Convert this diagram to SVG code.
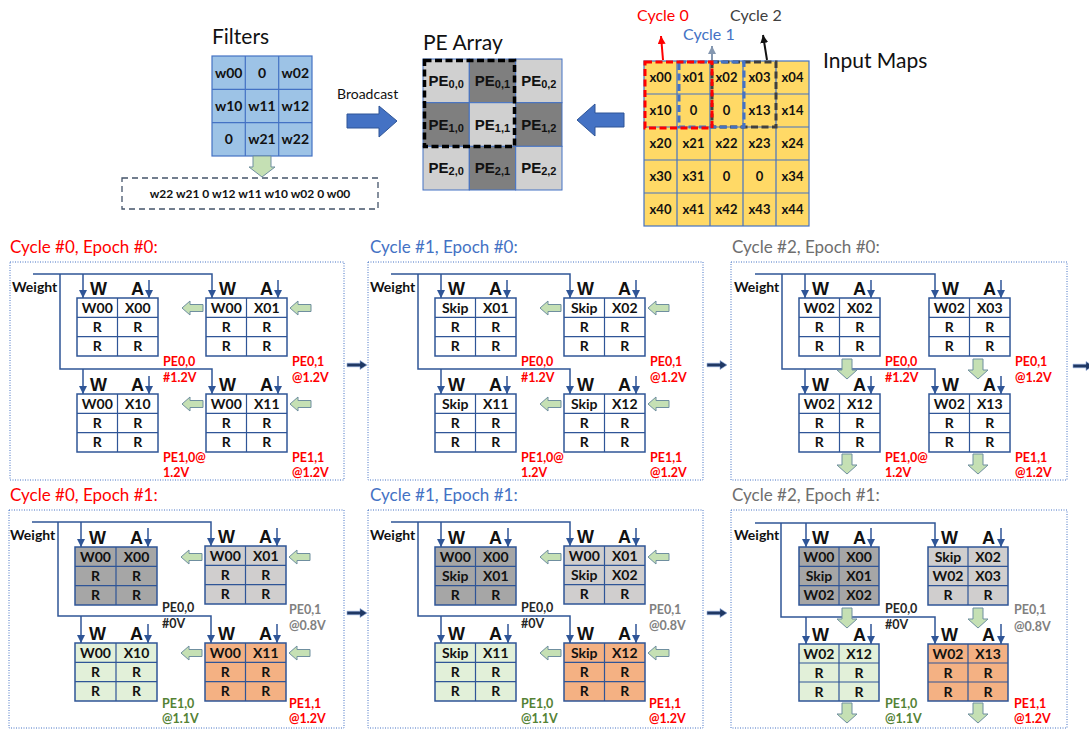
<svg xmlns="http://www.w3.org/2000/svg" xmlns:xlink="http://www.w3.org/1999/xlink" width="1089" height="730" viewBox="0 0 1089 730">
<defs>
<style>
.ttl{font-family:Lato,"Liberation Sans",sans-serif;font-size:21px;fill:#111}
.ptl{font-family:Lato,"Liberation Sans",sans-serif;font-size:17px}
.fc{font-family:Lato,"Liberation Sans",sans-serif;font-weight:700;font-size:14px;text-anchor:middle;fill:#111}
.mc{font-family:Lato,"Liberation Sans",sans-serif;font-weight:700;font-size:13px;text-anchor:middle;fill:#111}
.pe{font-family:"Liberation Sans",Arial,sans-serif;font-weight:700;font-size:15px;text-anchor:middle;fill:#111}
.bx{fill:#fff;stroke:#2F5597;stroke-width:1.5}
.dk .bx{fill:#A6A6A6}.lt .bx{fill:#D0CECE}.gn .bx{fill:#E2F0D9}.or .bx{fill:#F4B183}
.gl{fill:none;stroke:#2F5597;stroke-width:1.2}
.cell{font-family:Lato,"Liberation Sans",sans-serif;font-weight:700;font-size:14px;text-anchor:middle;fill:#111}
.wa{font-family:"Liberation Sans",Arial,sans-serif;font-weight:700;font-size:18px;fill:#111}
.wt{font-family:Lato,"Liberation Sans",sans-serif;font-weight:700;font-size:14px;fill:#111}
.lbl{font-family:Lato,"Liberation Sans",sans-serif;font-weight:700;font-size:12.5px}
.red{fill:#FF0000}.gry{fill:#808080}.grn{fill:#548235}.blk{fill:#262626}
.conn path{fill:none;stroke:#2F5597;stroke-width:1.5}
.conn path.a{marker-end:url(#ah)}
.conn use{fill:#C5E0B4;stroke:#6F8F9F;stroke-width:1}
.panel{fill:none;stroke:#4472C4;stroke-width:1;stroke-dasharray:1 1.5}
.nav{fill:#1F3864;stroke:#8FAADC;stroke-width:0.6}
</style>
<marker id="ah" viewBox="0 0 10 10" refX="10" refY="5" markerWidth="8" markerHeight="8" markerUnits="userSpaceOnUse" orient="auto"><path d="M0,0L10,5L0,10z" fill="#2F5597"/></marker>
<marker id="ahr" viewBox="0 0 10 10" refX="10" refY="5" markerWidth="8" markerHeight="8" markerUnits="userSpaceOnUse" orient="auto"><path d="M0,0L10,5L0,10z" fill="#FF0000"/></marker>
<marker id="ahb" viewBox="0 0 10 10" refX="10" refY="5" markerWidth="8" markerHeight="8" markerUnits="userSpaceOnUse" orient="auto"><path d="M0,0L10,5L0,10z" fill="#8497B0"/></marker>
<marker id="ahk" viewBox="0 0 10 10" refX="10" refY="5" markerWidth="8" markerHeight="8" markerUnits="userSpaceOnUse" orient="auto"><path d="M0,0L10,5L0,10z" fill="#111"/></marker>
<path id="gla" d="M0,0L8,-7V-3.5H21V3.5H8V7z"/>
<path id="gda" d="M0,0L-10,-9H-5V-20H5V-9H10z"/>
<path id="nar" d="M0,-1.8H13V-4.5L20,0L13,4.5V1.8H0z"/>
</defs>
<rect width="1089" height="730" fill="#fff"/>

<!-- Filters -->
<g id="filters">
<text class="ttl" x="212" y="44">Filters</text>
<g fill="#9DC3E6" stroke="#4472C4" stroke-width="1.2">
<rect x="212" y="56" width="100" height="100"/>
<path d="M245.3,56V156M278.7,56V156M212,89.3H312M212,122.7H312" fill="none"/>
</g>
<text class="fc" x="228.7" y="77.5">w00</text><text class="fc" x="262" y="77.5">0</text><text class="fc" x="295.3" y="77.5">w02</text>
<text class="fc" x="228.7" y="111">w10</text><text class="fc" x="262" y="111">w11</text><text class="fc" x="295.3" y="111">w12</text>
<text class="fc" x="228.7" y="144.3">0</text><text class="fc" x="262" y="144.3">w21</text><text class="fc" x="295.3" y="144.3">w22</text>
</g>
<g id="filter-sequence">
<rect x="122" y="178" width="256" height="31" fill="none" stroke="#44546A" stroke-width="1.3" stroke-dasharray="6 4"/>
<text x="250" y="198" font-family="Lato, 'Liberation Sans', sans-serif" font-weight="700" font-size="12" text-anchor="middle" fill="#111">w22 w21 0 w12 w11 w10 w02 0 w00</text>
</g>

<!-- PE Array -->
<g id="pe-array">
<text class="ttl" x="423" y="50">PE Array</text>
<g stroke="#4472C4" stroke-width="1">
<rect x="423" y="59" width="46.3" height="43.7" fill="#D0D0D0"/>
<rect x="469.3" y="59" width="46.3" height="43.7" fill="#7F7F7F"/>
<rect x="515.7" y="59" width="46.3" height="43.7" fill="#D0D0D0"/>
<rect x="423" y="102.7" width="46.3" height="43.7" fill="#7F7F7F"/>
<rect x="469.3" y="102.7" width="46.3" height="43.7" fill="#D0D0D0"/>
<rect x="515.7" y="102.7" width="46.3" height="43.7" fill="#7F7F7F"/>
<rect x="423" y="146.3" width="46.3" height="43.7" fill="#D0D0D0"/>
<rect x="469.3" y="146.3" width="46.3" height="43.7" fill="#7F7F7F"/>
<rect x="515.7" y="146.3" width="46.3" height="43.7" fill="#D0D0D0"/>
</g>
<text class="pe" x="446.2" y="86">PE<tspan font-size="11" dy="2">0,0</tspan></text>
<text class="pe" x="492.5" y="86">PE<tspan font-size="11" dy="2">0,1</tspan></text>
<text class="pe" x="538.8" y="86">PE<tspan font-size="11" dy="2">0,2</tspan></text>
<text class="pe" x="446.2" y="129.7">PE<tspan font-size="11" dy="2">1,0</tspan></text>
<text class="pe" x="492.5" y="129.7">PE<tspan font-size="11" dy="2">1,1</tspan></text>
<text class="pe" x="538.8" y="129.7">PE<tspan font-size="11" dy="2">1,2</tspan></text>
<text class="pe" x="446.2" y="173.3">PE<tspan font-size="11" dy="2">2,0</tspan></text>
<text class="pe" x="492.5" y="173.3">PE<tspan font-size="11" dy="2">2,1</tspan></text>
<text class="pe" x="538.8" y="173.3">PE<tspan font-size="11" dy="2">2,2</tspan></text>
<rect x="424.5" y="60.5" width="90" height="86" fill="none" stroke="#000" stroke-width="3.5" stroke-dasharray="7 3.5"/>
</g>

<!-- Input Maps -->
<g id="input-maps">
<text class="ttl" x="823" y="68" font-size="22">Input Maps</text>
<g fill="#FFD966" stroke="#4472C4" stroke-width="1.2">
<rect x="644" y="61" width="165" height="165"/>
<path d="M677,61V226M710,61V226M743,61V226M776,61V226M644,94H809M644,127H809M644,160H809M644,193H809" fill="none"/>
</g>
<text class="mc" x="660.5" y="82">x00</text><text class="mc" x="693.5" y="82">x01</text><text class="mc" x="726.5" y="82">x02</text><text class="mc" x="759.5" y="82">x03</text><text class="mc" x="792.5" y="82">x04</text>
<text class="mc" x="660.5" y="115">x10</text><text class="mc" x="693.5" y="115">0</text><text class="mc" x="726.5" y="115">0</text><text class="mc" x="759.5" y="115">x13</text><text class="mc" x="792.5" y="115">x14</text>
<text class="mc" x="660.5" y="148">x20</text><text class="mc" x="693.5" y="148">x21</text><text class="mc" x="726.5" y="148">x22</text><text class="mc" x="759.5" y="148">x23</text><text class="mc" x="792.5" y="148">x24</text>
<text class="mc" x="660.5" y="181">x30</text><text class="mc" x="693.5" y="181">x31</text><text class="mc" x="726.5" y="181">0</text><text class="mc" x="759.5" y="181">0</text><text class="mc" x="792.5" y="181">x34</text>
<text class="mc" x="660.5" y="214">x40</text><text class="mc" x="693.5" y="214">x41</text><text class="mc" x="726.5" y="214">x42</text><text class="mc" x="759.5" y="214">x43</text><text class="mc" x="792.5" y="214">x44</text>
<rect x="712" y="62" width="64" height="65" fill="none" stroke="#404040" stroke-width="3" stroke-dasharray="7 3.5"/>
<rect x="679" y="62" width="65" height="65" fill="none" stroke="#4472C4" stroke-width="3" stroke-dasharray="7 3.5"/>
<rect x="645" y="62" width="67" height="66" fill="none" stroke="#FF0000" stroke-width="3" stroke-dasharray="7 3.5"/>
<text x="637" y="21" font-family="Lato, 'Liberation Sans', sans-serif" font-size="16" fill="#FF0000">Cycle 0</text>
<text x="683" y="40" font-family="Lato, 'Liberation Sans', sans-serif" font-size="16" fill="#4472C4">Cycle 1</text>
<text x="730" y="21" font-family="Lato, 'Liberation Sans', sans-serif" font-size="16" fill="#404040">Cycle 2</text>
</g>

<!-- Top connectors -->
<g id="top-connectors">
<path d="M253,156V167H249L262,177L275,167H271V156z" fill="#C5E0B4" stroke="#6F8F9F" stroke-width="1"/>
<path d="M347,114H379V106L397,121L379,137V128H347z" fill="#4472C4" stroke="#2F5597" stroke-width="1"/>
<text x="337" y="99" font-family="Lato, 'Liberation Sans', sans-serif" font-size="14" fill="#111">Broadcast</text>
<path d="M577,120L595,104V113H624V127H595V136z" fill="#4472C4" stroke="#2F5597" stroke-width="1"/>
<path d="M663,60L661,36" stroke="#FF0000" stroke-width="2" fill="none" marker-end="url(#ahr)"/>
<path d="M712,60V46" stroke="#8497B0" stroke-width="2" fill="none" marker-end="url(#ahb)"/>
<path d="M767,60L763,35" stroke="#111" stroke-width="2" fill="none" marker-end="url(#ahk)"/>
</g>

<!-- Panel titles -->
<text class="ptl" x="10" y="253" fill="#FF0000">Cycle #0, Epoch #0:</text>
<text class="ptl" x="370" y="253" fill="#4472C4">Cycle #1, Epoch #0:</text>
<text class="ptl" x="732" y="253" fill="#6E6E6E">Cycle #2, Epoch #0:</text>
<text class="ptl" x="10" y="501" fill="#FF0000">Cycle #0, Epoch #1:</text>
<text class="ptl" x="370" y="501" fill="#4472C4">Cycle #1, Epoch #1:</text>
<text class="ptl" x="732" y="501" fill="#6E6E6E">Cycle #2, Epoch #1:</text>

<!-- Panel arrows -->
<g id="panel-arrows">
<use href="#nar" class="nav" x="347" y="365"/>
<use href="#nar" class="nav" x="707" y="365"/>
<use href="#nar" class="nav" x="1073" y="366"/>
<use href="#nar" class="nav" x="347" y="613"/>
<use href="#nar" class="nav" x="707" y="613"/>
</g>

<!-- ===== Panel C0E0 ===== -->
<g id="c0e0" transform="translate(10,262)">
<rect class="panel" width="334" height="218"/>
<text class="wt" x="2" y="30">Weight</text>
<g class="conn" id="c0e0-connectors">
<path class="a" d="M23,12H202V36"/><path class="a" d="M50,12V107H202V132"/><path class="a" d="M73,12V36"/><path class="a" d="M73,107V132"/>
<path class="a" d="M139,18V36"/><path class="a" d="M268,18V36"/><path class="a" d="M139,114V132"/><path class="a" d="M268,114V132"/>
<use href="#gla" x="172" y="46"/><use href="#gla" x="280" y="46"/><use href="#gla" x="172" y="142"/><use href="#gla" x="280" y="142"/>
</g>
<g id="c0e0-pe00" transform="translate(67,36)"><rect class="bx" width="81" height="58"/><path class="gl" d="M40.5,0V58M0,19.3H81M0,38.7H81"/><text class="wa" x="13" y="-3">W</text><text class="wa" x="54" y="-3">A</text>
<text class="cell" x="20.3" y="14.5">W00</text><text class="cell" x="60.8" y="14.5">X00</text><text class="cell" x="20.3" y="34">R</text><text class="cell" x="60.8" y="34">R</text><text class="cell" x="20.3" y="53.3">R</text><text class="cell" x="60.8" y="53.3">R</text>
<text class="lbl red" x="86" y="68">PE0,0</text><text class="lbl red" x="86" y="84">#1.2V</text></g>
<g id="c0e0-pe01" transform="translate(196,36)"><rect class="bx" width="81" height="58"/><path class="gl" d="M40.5,0V58M0,19.3H81M0,38.7H81"/><text class="wa" x="13" y="-3">W</text><text class="wa" x="54" y="-3">A</text>
<text class="cell" x="20.3" y="14.5">W00</text><text class="cell" x="60.8" y="14.5">X01</text><text class="cell" x="20.3" y="34">R</text><text class="cell" x="60.8" y="34">R</text><text class="cell" x="20.3" y="53.3">R</text><text class="cell" x="60.8" y="53.3">R</text>
<text class="lbl red" x="86" y="68">PE0,1</text><text class="lbl red" x="86" y="84">@1.2V</text></g>
<g id="c0e0-pe10" transform="translate(67,132)"><rect class="bx" width="81" height="58"/><path class="gl" d="M40.5,0V58M0,19.3H81M0,38.7H81"/><text class="wa" x="13" y="-3">W</text><text class="wa" x="54" y="-3">A</text>
<text class="cell" x="20.3" y="14.5">W00</text><text class="cell" x="60.8" y="14.5">X10</text><text class="cell" x="20.3" y="34">R</text><text class="cell" x="60.8" y="34">R</text><text class="cell" x="20.3" y="53.3">R</text><text class="cell" x="60.8" y="53.3">R</text>
<text class="lbl red" x="86" y="68">PE1,0@</text><text class="lbl red" x="86" y="83">1.2V</text></g>
<g id="c0e0-pe11" transform="translate(196,132)"><rect class="bx" width="81" height="58"/><path class="gl" d="M40.5,0V58M0,19.3H81M0,38.7H81"/><text class="wa" x="13" y="-3">W</text><text class="wa" x="54" y="-3">A</text>
<text class="cell" x="20.3" y="14.5">W00</text><text class="cell" x="60.8" y="14.5">X11</text><text class="cell" x="20.3" y="34">R</text><text class="cell" x="60.8" y="34">R</text><text class="cell" x="20.3" y="53.3">R</text><text class="cell" x="60.8" y="53.3">R</text>
<text class="lbl red" x="86" y="68">PE1,1</text><text class="lbl red" x="86" y="83">@1.2V</text></g>
</g>

<!-- ===== Panel C1E0 ===== -->
<g id="c1e0" transform="translate(368,262)">
<rect class="panel" width="335" height="218"/>
<text class="wt" x="2" y="30">Weight</text>
<g class="conn" id="c1e0-connectors">
<path class="a" d="M23,12H202V36"/><path class="a" d="M50,12V107H202V132"/><path class="a" d="M73,12V36"/><path class="a" d="M73,107V132"/>
<path class="a" d="M139,18V36"/><path class="a" d="M268,18V36"/><path class="a" d="M139,114V132"/><path class="a" d="M268,114V132"/>
<use href="#gla" x="172" y="46"/><use href="#gla" x="280" y="46"/><use href="#gla" x="172" y="142"/><use href="#gla" x="280" y="142"/>
</g>
<g id="c1e0-pe00" transform="translate(67,36)"><rect class="bx" width="81" height="58"/><path class="gl" d="M40.5,0V58M0,19.3H81M0,38.7H81"/><text class="wa" x="13" y="-3">W</text><text class="wa" x="54" y="-3">A</text>
<text class="cell" x="20.3" y="14.5">Skip</text><text class="cell" x="60.8" y="14.5">X01</text><text class="cell" x="20.3" y="34">R</text><text class="cell" x="60.8" y="34">R</text><text class="cell" x="20.3" y="53.3">R</text><text class="cell" x="60.8" y="53.3">R</text>
<text class="lbl red" x="86" y="68">PE0,0</text><text class="lbl red" x="86" y="84">#1.2V</text></g>
<g id="c1e0-pe01" transform="translate(196,36)"><rect class="bx" width="81" height="58"/><path class="gl" d="M40.5,0V58M0,19.3H81M0,38.7H81"/><text class="wa" x="13" y="-3">W</text><text class="wa" x="54" y="-3">A</text>
<text class="cell" x="20.3" y="14.5">Skip</text><text class="cell" x="60.8" y="14.5">X02</text><text class="cell" x="20.3" y="34">R</text><text class="cell" x="60.8" y="34">R</text><text class="cell" x="20.3" y="53.3">R</text><text class="cell" x="60.8" y="53.3">R</text>
<text class="lbl red" x="86" y="68">PE0,1</text><text class="lbl red" x="86" y="84">@1.2V</text></g>
<g id="c1e0-pe10" transform="translate(67,132)"><rect class="bx" width="81" height="58"/><path class="gl" d="M40.5,0V58M0,19.3H81M0,38.7H81"/><text class="wa" x="13" y="-3">W</text><text class="wa" x="54" y="-3">A</text>
<text class="cell" x="20.3" y="14.5">Skip</text><text class="cell" x="60.8" y="14.5">X11</text><text class="cell" x="20.3" y="34">R</text><text class="cell" x="60.8" y="34">R</text><text class="cell" x="20.3" y="53.3">R</text><text class="cell" x="60.8" y="53.3">R</text>
<text class="lbl red" x="86" y="68">PE1,0@</text><text class="lbl red" x="86" y="83">1.2V</text></g>
<g id="c1e0-pe11" transform="translate(196,132)"><rect class="bx" width="81" height="58"/><path class="gl" d="M40.5,0V58M0,19.3H81M0,38.7H81"/><text class="wa" x="13" y="-3">W</text><text class="wa" x="54" y="-3">A</text>
<text class="cell" x="20.3" y="14.5">Skip</text><text class="cell" x="60.8" y="14.5">X12</text><text class="cell" x="20.3" y="34">R</text><text class="cell" x="60.8" y="34">R</text><text class="cell" x="20.3" y="53.3">R</text><text class="cell" x="60.8" y="53.3">R</text>
<text class="lbl red" x="86" y="68">PE1,1</text><text class="lbl red" x="86" y="83">@1.2V</text></g>
</g>

<!-- ===== Panel C2E0 ===== -->
<g id="c2e0" transform="translate(731,262)">
<rect class="panel" width="336" height="218"/>
<text class="wt" x="3" y="30">Weight</text>
<g class="conn" id="c2e0-connectors">
<path class="a" d="M24,12H204V36"/><path class="a" d="M51,12V107H204V132"/><path class="a" d="M74,12V36"/><path class="a" d="M74,107V132"/>
<path class="a" d="M140,18V36"/><path class="a" d="M270,18V36"/><path class="a" d="M140,114V132"/><path class="a" d="M270,114V132"/>
<use href="#gda" x="116" y="117"/><use href="#gda" x="247" y="117"/><use href="#gda" x="116" y="212"/><use href="#gda" x="247" y="212"/>
</g>
<g id="c2e0-pe00" transform="translate(68,36)"><rect class="bx" width="81" height="58"/><path class="gl" d="M40.5,0V58M0,19.3H81M0,38.7H81"/><text class="wa" x="13" y="-3">W</text><text class="wa" x="54" y="-3">A</text>
<text class="cell" x="20.3" y="14.5">W02</text><text class="cell" x="60.8" y="14.5">X02</text><text class="cell" x="20.3" y="34">R</text><text class="cell" x="60.8" y="34">R</text><text class="cell" x="20.3" y="53.3">R</text><text class="cell" x="60.8" y="53.3">R</text>
<text class="lbl red" x="86" y="68">PE0,0</text><text class="lbl red" x="86" y="84">#1.2V</text></g>
<g id="c2e0-pe01" transform="translate(198,36)"><rect class="bx" width="81" height="58"/><path class="gl" d="M40.5,0V58M0,19.3H81M0,38.7H81"/><text class="wa" x="13" y="-3">W</text><text class="wa" x="54" y="-3">A</text>
<text class="cell" x="20.3" y="14.5">W02</text><text class="cell" x="60.8" y="14.5">X03</text><text class="cell" x="20.3" y="34">R</text><text class="cell" x="60.8" y="34">R</text><text class="cell" x="20.3" y="53.3">R</text><text class="cell" x="60.8" y="53.3">R</text>
<text class="lbl red" x="86" y="68">PE0,1</text><text class="lbl red" x="86" y="84">@1.2V</text></g>
<g id="c2e0-pe10" transform="translate(68,132)"><rect class="bx" width="81" height="58"/><path class="gl" d="M40.5,0V58M0,19.3H81M0,38.7H81"/><text class="wa" x="13" y="-3">W</text><text class="wa" x="54" y="-3">A</text>
<text class="cell" x="20.3" y="14.5">W02</text><text class="cell" x="60.8" y="14.5">X12</text><text class="cell" x="20.3" y="34">R</text><text class="cell" x="60.8" y="34">R</text><text class="cell" x="20.3" y="53.3">R</text><text class="cell" x="60.8" y="53.3">R</text>
<text class="lbl red" x="86" y="68">PE1,0@</text><text class="lbl red" x="86" y="83">1.2V</text></g>
<g id="c2e0-pe11" transform="translate(198,132)"><rect class="bx" width="81" height="58"/><path class="gl" d="M40.5,0V58M0,19.3H81M0,38.7H81"/><text class="wa" x="13" y="-3">W</text><text class="wa" x="54" y="-3">A</text>
<text class="cell" x="20.3" y="14.5">W02</text><text class="cell" x="60.8" y="14.5">X13</text><text class="cell" x="20.3" y="34">R</text><text class="cell" x="60.8" y="34">R</text><text class="cell" x="20.3" y="53.3">R</text><text class="cell" x="60.8" y="53.3">R</text>
<text class="lbl red" x="86" y="68">PE1,1</text><text class="lbl red" x="86" y="83">@1.2V</text></g>
</g>

<!-- ===== Panel C0E1 ===== -->
<g id="c0e1" transform="translate(9,510)">
<rect class="panel" width="335" height="218"/>
<text class="wt" x="1" y="30">Weight</text>
<g class="conn" id="c0e1-connectors">
<path class="a" d="M23,12H202V36"/><path class="a" d="M49,12V106H202V133"/><path class="a" d="M72,12V37"/><path class="a" d="M72,106V133"/>
<path class="a" d="M139,18V37"/><path class="a" d="M268,18V36"/><path class="a" d="M139,114V133"/><path class="a" d="M268,114V133"/>
<use href="#gla" x="172" y="47"/><use href="#gla" x="280" y="47"/><use href="#gla" x="172" y="143"/><use href="#gla" x="280" y="143"/>
</g>
<g id="c0e1-pe00" class="dk" transform="translate(66,37)"><rect class="bx" width="82" height="58"/><path class="gl" d="M41,0V58M0,19.3H82M0,38.7H82"/><text class="wa" x="14" y="-3">W</text><text class="wa" x="55" y="-3">A</text>
<text class="cell" x="20.5" y="14.5">W00</text><text class="cell" x="61.5" y="14.5">X00</text><text class="cell" x="20.5" y="34">R</text><text class="cell" x="61.5" y="34">R</text><text class="cell" x="20.5" y="53.3">R</text><text class="cell" x="61.5" y="53.3">R</text>
<text class="lbl blk" x="87" y="65">PE0,0</text><text class="lbl blk" x="87" y="81">#0V</text></g>
<g id="c0e1-pe01" class="lt" transform="translate(196,36)"><rect class="bx" width="81" height="58"/><path class="gl" d="M40.5,0V58M0,19.3H81M0,38.7H81"/><text class="wa" x="13" y="-3">W</text><text class="wa" x="54" y="-3">A</text>
<text class="cell" x="20.3" y="14.5">W00</text><text class="cell" x="60.8" y="14.5">X01</text><text class="cell" x="20.3" y="34">R</text><text class="cell" x="60.8" y="34">R</text><text class="cell" x="20.3" y="53.3">R</text><text class="cell" x="60.8" y="53.3">R</text>
<text class="lbl gry" x="84" y="68">PE0,1</text><text class="lbl gry" x="84" y="84">@0.8V</text></g>
<g id="c0e1-pe10" class="gn" transform="translate(66,133)"><rect class="bx" width="82" height="58"/><path class="gl" d="M41,0V58M0,19.3H82M0,38.7H82"/><text class="wa" x="14" y="-3">W</text><text class="wa" x="55" y="-3">A</text>
<text class="cell" x="20.5" y="14.5">W00</text><text class="cell" x="61.5" y="14.5">X10</text><text class="cell" x="20.5" y="34">R</text><text class="cell" x="61.5" y="34">R</text><text class="cell" x="20.5" y="53.3">R</text><text class="cell" x="61.5" y="53.3">R</text>
<text class="lbl grn" x="87" y="65">PE1,0</text><text class="lbl grn" x="87" y="80">@1.1V</text></g>
<g id="c0e1-pe11" class="or" transform="translate(196,133)"><rect class="bx" width="81" height="58"/><path class="gl" d="M40.5,0V58M0,19.3H81M0,38.7H81"/><text class="wa" x="13" y="-3">W</text><text class="wa" x="54" y="-3">A</text>
<text class="cell" x="20.3" y="14.5">W00</text><text class="cell" x="60.8" y="14.5">X11</text><text class="cell" x="20.3" y="34">R</text><text class="cell" x="60.8" y="34">R</text><text class="cell" x="20.3" y="53.3">R</text><text class="cell" x="60.8" y="53.3">R</text>
<text class="lbl red" x="84" y="65">PE1,1</text><text class="lbl red" x="84" y="80">@1.2V</text></g>
</g>

<!-- ===== Panel C1E1 ===== -->
<g id="c1e1" transform="translate(368,510)">
<rect class="panel" width="335" height="218"/>
<text class="wt" x="2" y="30">Weight</text>
<g class="conn" id="c1e1-connectors">
<path class="a" d="M23,12H202V36"/><path class="a" d="M50,12V106H202V133"/><path class="a" d="M73,12V37"/><path class="a" d="M73,106V133"/>
<path class="a" d="M140,18V37"/><path class="a" d="M268,18V36"/><path class="a" d="M140,114V133"/><path class="a" d="M268,114V133"/>
<use href="#gla" x="172" y="47"/><use href="#gla" x="280" y="47"/><use href="#gla" x="172" y="143"/><use href="#gla" x="280" y="143"/>
</g>
<g id="c1e1-pe00" class="dk" transform="translate(67,37)"><rect class="bx" width="81" height="58"/><path class="gl" d="M40.5,0V58M0,19.3H81M0,38.7H81"/><text class="wa" x="13" y="-3">W</text><text class="wa" x="54" y="-3">A</text>
<text class="cell" x="20.3" y="14.5">W00</text><text class="cell" x="60.8" y="14.5">X00</text><text class="cell" x="20.3" y="34">Skip</text><text class="cell" x="60.8" y="34">X01</text><text class="cell" x="20.3" y="53.3">R</text><text class="cell" x="60.8" y="53.3">R</text>
<text class="lbl blk" x="86" y="65">PE0,0</text><text class="lbl blk" x="86" y="81">#0V</text></g>
<g id="c1e1-pe01" class="lt" transform="translate(196,36)"><rect class="bx" width="81" height="58"/><path class="gl" d="M40.5,0V58M0,19.3H81M0,38.7H81"/><text class="wa" x="13" y="-3">W</text><text class="wa" x="54" y="-3">A</text>
<text class="cell" x="20.3" y="14.5">W00</text><text class="cell" x="60.8" y="14.5">X01</text><text class="cell" x="20.3" y="34">Skip</text><text class="cell" x="60.8" y="34">X02</text><text class="cell" x="20.3" y="53.3">R</text><text class="cell" x="60.8" y="53.3">R</text>
<text class="lbl gry" x="85" y="68">PE0,1</text><text class="lbl gry" x="85" y="84">@0.8V</text></g>
<g id="c1e1-pe10" class="gn" transform="translate(67,133)"><rect class="bx" width="81" height="58"/><path class="gl" d="M40.5,0V58M0,19.3H81M0,38.7H81"/><text class="wa" x="13" y="-3">W</text><text class="wa" x="54" y="-3">A</text>
<text class="cell" x="20.3" y="14.5">Skip</text><text class="cell" x="60.8" y="14.5">X11</text><text class="cell" x="20.3" y="34">R</text><text class="cell" x="60.8" y="34">R</text><text class="cell" x="20.3" y="53.3">R</text><text class="cell" x="60.8" y="53.3">R</text>
<text class="lbl grn" x="86" y="65">PE1,0</text><text class="lbl grn" x="86" y="80">@1.1V</text></g>
<g id="c1e1-pe11" class="or" transform="translate(196,133)"><rect class="bx" width="81" height="58"/><path class="gl" d="M40.5,0V58M0,19.3H81M0,38.7H81"/><text class="wa" x="13" y="-3">W</text><text class="wa" x="54" y="-3">A</text>
<text class="cell" x="20.3" y="14.5">Skip</text><text class="cell" x="60.8" y="14.5">X12</text><text class="cell" x="20.3" y="34">R</text><text class="cell" x="60.8" y="34">R</text><text class="cell" x="20.3" y="53.3">R</text><text class="cell" x="60.8" y="53.3">R</text>
<text class="lbl red" x="85" y="65">PE1,1</text><text class="lbl red" x="85" y="80">@1.2V</text></g>
</g>

<!-- ===== Panel C2E1 ===== -->
<g id="c2e1" transform="translate(731,510)">
<rect class="panel" width="336" height="218"/>
<text class="wt" x="3" y="30">Weight</text>
<g class="conn" id="c2e1-connectors">
<path class="a" d="M24,13H204V37"/><path class="a" d="M50,13V107H204V134"/><path class="a" d="M75,13V37"/><path class="a" d="M75,107V134"/>
<path class="a" d="M140,18V37"/><path class="a" d="M270,18V37"/><path class="a" d="M140,114V134"/><path class="a" d="M270,114V134"/>
<use href="#gda" x="116" y="118"/><use href="#gda" x="247" y="118"/><use href="#gda" x="116" y="213"/><use href="#gda" x="247" y="213"/>
</g>
<g id="c2e1-pe00" class="dk" transform="translate(68,37)"><rect class="bx" width="80" height="58"/><path class="gl" d="M40,0V58M0,19.3H80M0,38.7H80"/><text class="wa" x="13" y="-3">W</text><text class="wa" x="54" y="-3">A</text>
<text class="cell" x="20" y="14.5">W00</text><text class="cell" x="60" y="14.5">X00</text><text class="cell" x="20" y="34">Skip</text><text class="cell" x="60" y="34">X01</text><text class="cell" x="20" y="53.3">W02</text><text class="cell" x="60" y="53.3">X02</text>
<text class="lbl blk" x="86" y="66">PE0,0</text><text class="lbl blk" x="86" y="82">#0V</text></g>
<g id="c2e1-pe01" class="lt" transform="translate(197,37)"><rect class="bx" width="80" height="58"/><path class="gl" d="M40,0V58M0,19.3H80M0,38.7H80"/><text class="wa" x="13" y="-3">W</text><text class="wa" x="54" y="-3">A</text>
<text class="cell" x="20" y="14.5">Skip</text><text class="cell" x="60" y="14.5">X02</text><text class="cell" x="20" y="34">W02</text><text class="cell" x="60" y="34">X03</text><text class="cell" x="20" y="53.3">R</text><text class="cell" x="60" y="53.3">R</text>
<text class="lbl gry" x="86" y="67">PE0,1</text><text class="lbl gry" x="86" y="84">@0.8V</text></g>
<g id="c2e1-pe10" class="gn" transform="translate(68,134)"><rect class="bx" width="80" height="57"/><path class="gl" d="M40,0V57M0,19H80M0,38H80"/><text class="wa" x="13" y="-3">W</text><text class="wa" x="54" y="-3">A</text>
<text class="cell" x="20" y="14.5">W02</text><text class="cell" x="60" y="14.5">X12</text><text class="cell" x="20" y="33.5">R</text><text class="cell" x="60" y="33.5">R</text><text class="cell" x="20" y="52.5">R</text><text class="cell" x="60" y="52.5">R</text>
<text class="lbl grn" x="86" y="64">PE1,0</text><text class="lbl grn" x="86" y="79">@1.1V</text></g>
<g id="c2e1-pe11" class="or" transform="translate(197,134)"><rect class="bx" width="80" height="57"/><path class="gl" d="M40,0V57M0,19H80M0,38H80"/><text class="wa" x="13" y="-3">W</text><text class="wa" x="54" y="-3">A</text>
<text class="cell" x="20" y="14.5">W02</text><text class="cell" x="60" y="14.5">X13</text><text class="cell" x="20" y="33.5">R</text><text class="cell" x="60" y="33.5">R</text><text class="cell" x="20" y="52.5">R</text><text class="cell" x="60" y="52.5">R</text>
<text class="lbl red" x="86" y="64">PE1,1</text><text class="lbl red" x="86" y="79">@1.2V</text></g>
</g>
</svg>
